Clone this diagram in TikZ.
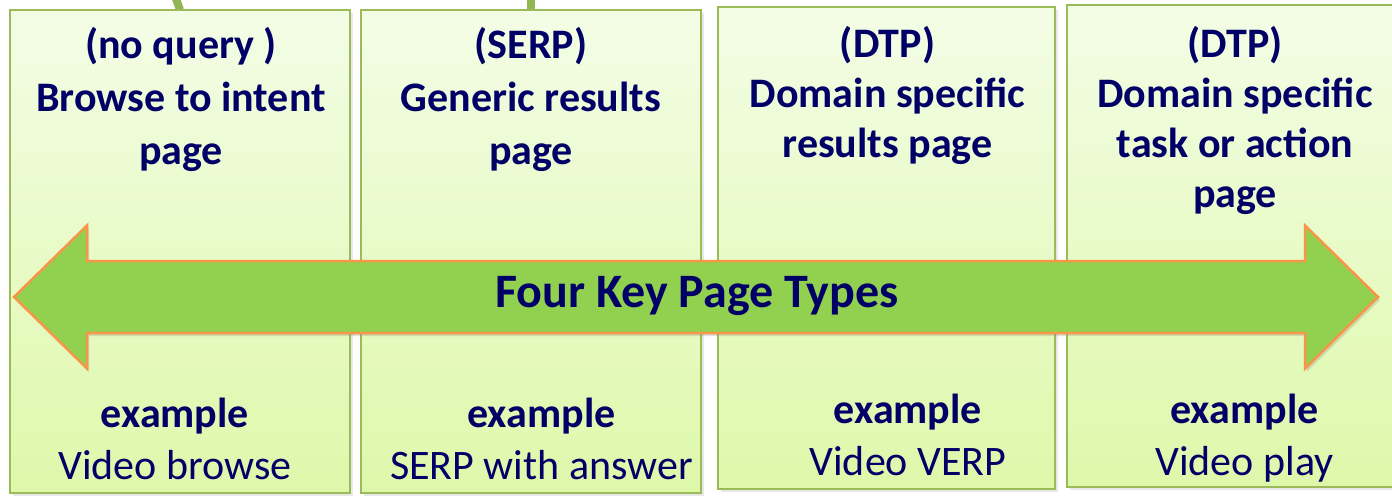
\documentclass[tikz,border=0pt]{standalone}
\usepackage{fontspec}
\setmainfont{Carlito}
\usetikzlibrary{shadows}
\definecolor{navy}{RGB}{0,0,102}
\definecolor{pborder}{HTML}{9BBB59}
\definecolor{ptop}{HTML}{F3FDE6}
\definecolor{pbottom}{HTML}{DEF8AA}
\definecolor{afill}{HTML}{92D050}
\definecolor{aborder}{HTML}{F79646}
\definecolor{cgreen}{HTML}{92B653}
\newcommand\mylines[1]{\begin{tabular}[t]{@{}c@{}}#1\end{tabular}}
\tikzset{
  panel/.style={draw=pborder, line width=2.5pt, top color=ptop, bottom color=pbottom,
    inner sep=0pt, drop shadow={opacity=0.18, shadow xshift=3pt, shadow yshift=-3pt}},
  conn/.style={draw=cgreen, line width=8pt},
  titleA/.style={inner sep=0pt, text=navy, font=\bfseries\fontsize{42}{53}\selectfont},
  titleB/.style={inner sep=0pt, text=navy, font=\bfseries\fontsize{42}{50}\selectfont},
  exa/.style={inner sep=0pt, text=navy, font=\fontsize{42}{52}\selectfont},
  bigarrow/.style={fill=afill, draw=aborder, line width=2.5pt, line join=miter,
    drop shadow={opacity=0.25, shadow xshift=2pt, shadow yshift=-3pt}},
  arrowlabel/.style={inner sep=0pt, text=navy, font=\bfseries\fontsize{48}{56}\selectfont}
}
\begin{document}
\begin{tikzpicture}[x=1pt,y=-1pt]
\useasboundingbox (0,0) rectangle (1392,496);
\fill[white] (0,0) rectangle (1392,496);
% connectors coming from above
\coordinate (t1) at (175,-4);
\coordinate (t2) at (531,-4);
\node[minimum width=340pt, minimum height=483pt] (p1g) at (180,251.5) {};
\node[minimum width=340pt, minimum height=483pt] (p2g) at (531,251.5) {};
\draw[conn] (t1) .. controls (178,3) .. (p1g.north);
\draw[conn] (t2) -- (p2g.north);
% panels
\node[panel, minimum width=340pt, minimum height=483pt] (p1) at (180,251.5) {};
\node[panel, minimum width=340pt, minimum height=483pt] (p2) at (531,251.5) {};
\node[panel, minimum width=337pt, minimum height=482pt] (p3) at (886.5,248) {};
\node[panel, minimum width=336pt, minimum height=482pt] (p4) at (1235,246) {};
% titles
\node[titleA, anchor=base] (h1) at (181,58) {\mylines{(no query )\\Browse to intent\\page}};
\node[titleA, anchor=base] (h2) at (531,58) {\mylines{(SERP)\\Generic results\\page}};
\node[titleB, anchor=base] (h3) at (887.5,57) {\mylines{(DTP)\\Domain specific\\results page}};
\node[titleB, anchor=base] (h4) at (1235,57) {\mylines{(DTP)\\Domain specific\\task or action\\page}};
% big double arrow
\coordinate (la) at (14,297);
\coordinate (ra) at (1378,297);
\path[bigarrow] (la) -- (87,225.5) -- (87,261) -- (1305,261) -- (1305,225.5) -- (ra)
  -- (1305,368.5) -- (1305,333) -- (87,333) -- (87,368.5) -- cycle;
\node[arrowlabel, anchor=base] (lbl) at (697,307) {Four Key Page Types};
% examples
\node[exa, anchor=base] (e1) at (175,427) {\mylines{\textbf{example}\\Video browse}};
\node[exa, anchor=base] (e2) at (541.5,427) {\mylines{\textbf{example}\\SERP with answer}};
\node[exa, anchor=base] (e3) at (908,423) {\mylines{\textbf{example}\\Video VERP}};
\node[exa, anchor=base] (e4) at (1244.5,423) {\mylines{\textbf{example}\\Video play}};
\end{tikzpicture}
\end{document}
